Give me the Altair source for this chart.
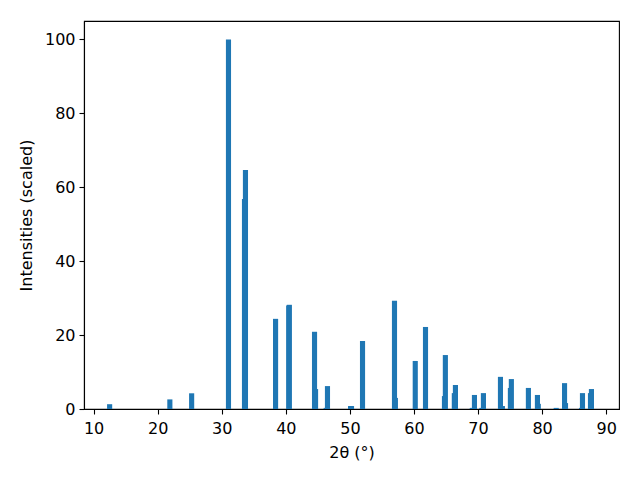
import altair as alt
import pandas as pd

# 2-theta peak positions (degrees) and scaled intensities
positions = [12.5, 21.9, 25.3, 31.05, 33.55, 33.7, 38.4, 40.45, 40.55, 44.48, 44.64,
             46.3, 46.5, 50.1, 50.25, 51.97, 56.96, 57.1, 60.2, 61.8, 64.76, 64.9,
             66.3, 66.47, 69.1, 69.44, 70.6, 70.84, 73.5, 73.8, 75.05, 75.2, 77.86,
             79.27, 79.4, 82.2, 83.5, 83.65, 86.15, 86.3, 87.55, 87.7]
intensities = [1.3, 2.6, 4.25, 100, 56.8, 64.7, 24.4, 28.0, 28.2, 20.9, 5.4,
               0.3, 6.2, 0.8, 0.8, 18.4, 29.3, 3.0, 13.0, 22.2, 3.5, 14.6,
               4.3, 6.5, 0.3, 3.8, 0.3, 4.3, 8.7, 0.8, 5.7, 8.1, 5.7,
               3.8, 1.4, 0.3, 7.0, 1.6, 0.3, 4.3, 4.3, 5.4]
x_ticks = [10, 20, 30, 40, 50, 60, 70, 80, 90]
y_ticks = [0, 20, 40, 60, 80, 100]

df = pd.DataFrame({"pos": positions, "inten": intensities, "order": range(len(positions))})

chart = (
    alt.Chart(df)
    .transform_calculate(x0="datum.pos - 0.4", x1="datum.pos + 0.4")
    .mark_rect(color="#1f77b4")
    .encode(
        x=alt.X("x0:Q",
                scale=alt.Scale(domain=[8.5, 92], nice=False, zero=False),
                axis=alt.Axis(values=x_ticks, title="2θ (°)", labelPadding=6,
                              titlePadding=8, labelFontSize=16, titleFontSize=16)),
        x2="x1:Q",
        y=alt.Y("inten:Q",
                scale=alt.Scale(domain=[0, 105], nice=False),
                axis=alt.Axis(values=y_ticks, title="Intensities (scaled)",
                              titlePadding=10, labelFontSize=16, titleFontSize=16)),
        y2=alt.datum(0),
        order="order:Q",
    )
    .properties(
        width=535, height=388,
        autosize=alt.AutoSizeParams(type="none"),
        padding={"left": 76, "top": 13, "right": 13, "bottom": 63},
    )
    .configure_view(stroke="black", strokeWidth=1.1)
    .configure_axis(
        grid=False,
        domainColor="black", domainWidth=1.1,
        tickColor="black", tickWidth=1.1, tickSize=5,
        labelColor="black", labelFont="DejaVu Sans",
        labelPadding=4,
        titleColor="black", titleFont="DejaVu Sans",
        titleFontWeight="normal",
    )
)

chart.save("out.html", embed_options={"renderer": "svg", "actions": False})
